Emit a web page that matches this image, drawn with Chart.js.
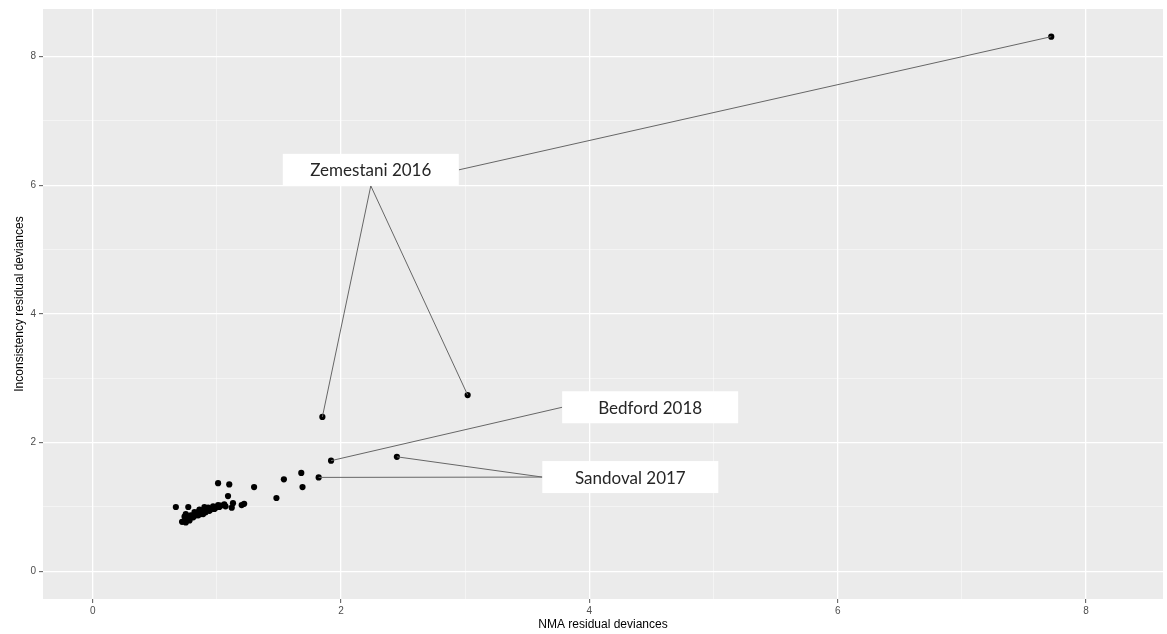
<!DOCTYPE html>
<html>
<head>
<meta charset="utf-8">
<script src="https://cdn.jsdelivr.net/npm/chart.js@4/dist/chart.umd.min.js"></script>
<style>
  body { margin: 0; background: #fff; }
  canvas { display: block; }
</style>
</head>
<body>
<canvas id="dev" width="1167" height="634"></canvas>
<script>
// residual deviances per study: NMA (x) vs inconsistency model (y)
const nmaDev = [7.72, 1.85, 3.02, 1.92, 2.45, 1.82, 1.68, 1.69, 1.54, 1.48, 1.30, 1.01, 1.10, 1.09, 1.13, 1.12, 1.20, 1.22, 0.67, 0.77,
  0.72, 0.74, 0.75, 0.74, 0.78, 0.81, 0.83, 0.85, 0.87, 0.89, 0.91, 0.93, 0.95, 0.97, 0.99, 1.01, 1.03, 1.06,
  0.90, 0.86, 0.82, 0.79, 0.76, 0.94, 0.98, 1.02, 1.07, 0.89, 0.85, 0.75, 0.78];
const incDev = [8.31, 2.40, 2.74, 1.72, 1.78, 1.46, 1.53, 1.31, 1.43, 1.14, 1.31, 1.37, 1.35, 1.17, 1.06, 0.99, 1.03, 1.05, 1.00, 1.00,
  0.77, 0.78, 0.89, 0.85, 0.82, 0.84, 0.87, 0.92, 0.89, 0.95, 0.92, 0.99, 0.96, 1.01, 0.99, 1.03, 1.02, 1.04,
  1.00, 0.96, 0.92, 0.87, 0.83, 0.94, 0.97, 1.00, 1.01, 0.89, 0.87, 0.76, 0.79];

// labelled studies: label anchor (data units) and the points each one refers to
const labelNames = ['Zemestani 2016', 'Bedford 2018', 'Sandoval 2017'];
const labelX = [2.24, 4.49, 4.33];
const labelY = [6.24, 2.55, 1.465];
const labelTargets = [[0, 1, 2], [3], [4, 5]];

const xTicks = [0, 1, 2, 3, 4, 5, 6, 7, 8];
const yTicks = [0, 1, 2, 3, 4, 5, 6, 7, 8];

const BOX_W = 176, BOX_H = 32;

const panelBg = {
  id: 'panelBg',
  beforeDraw(chart) {
    const { ctx, chartArea: a } = chart;
    ctx.save();
    ctx.fillStyle = '#EBEBEB';
    ctx.fillRect(a.left, a.top, a.right - a.left, a.bottom - a.top);
    ctx.restore();
  }
};

const repelLabels = {
  id: 'repelLabels',
  afterDatasetsDraw(chart) {
    const { ctx, scales: { x, y } } = chart;
    ctx.save();
    labelNames.forEach((name, i) => {
      const cx = x.getPixelForValue(labelX[i]);
      const cy = y.getPixelForValue(labelY[i]);
      const left = cx - BOX_W / 2, right = cx + BOX_W / 2;
      const top = cy - BOX_H / 2, bottom = cy + BOX_H / 2;

      ctx.strokeStyle = '#666';
      ctx.lineWidth = 1;
      labelTargets[i].forEach(k => {
        const px = x.getPixelForValue(nmaDev[k]);
        const py = y.getPixelForValue(incDev[k]);
        const dx = px - cx, dy = py - cy;
        let sx, sy;
        if (Math.abs(dx) - BOX_W / 2 > Math.abs(dy) - BOX_H / 2) {
          sx = dx > 0 ? right : left; sy = cy;
        } else {
          sx = cx; sy = dy > 0 ? bottom : top;
        }
        ctx.beginPath();
        ctx.moveTo(sx, sy);
        ctx.lineTo(px, py);
        ctx.stroke();
      });

      ctx.fillStyle = '#fff';
      ctx.fillRect(left, top, BOX_W, BOX_H);
      ctx.fillStyle = '#262626';
      ctx.font = '17px Lato';
      ctx.textAlign = 'center';
      ctx.textBaseline = 'middle';
      ctx.fillText(name, cx, cy + 1);
    });
    ctx.restore();
  }
};

const gridOpts = {
  color: ctx => (ctx.tick && ctx.tick.value % 2 === 0) ? '#ffffff' : 'rgba(255,255,255,0.75)',
  lineWidth: ctx => (ctx.tick && ctx.tick.value % 2 === 0) ? 1.3 : 0.6,
  tickColor: ctx => (ctx.tick && ctx.tick.value % 2 === 0) ? '#555' : 'rgba(0,0,0,0)',
  tickWidth: 1,
  tickLength: 4
};

new Chart(document.getElementById('dev'), {
  type: 'scatter',
  data: {
    datasets: [{
      data: nmaDev.map((v, i) => ({ x: v, y: incDev[i] })),
      backgroundColor: '#000',
      borderColor: '#000',
      borderWidth: 0,
      pointRadius: 3.1
    }]
  },
  options: {
    responsive: false,
    animation: false,
    devicePixelRatio: 1,
    layout: { padding: { top: 7, right: 2, left: 0, bottom: 0 } },
    plugins: { legend: { display: false }, tooltip: { enabled: false } },
    scales: {
      x: {
        type: 'linear',
        min: -0.40,
        max: 8.62,
        afterBuildTicks: s => { s.ticks = xTicks.map(value => ({ value })); },
        afterFit: s => { s.height = 35; },
        border: { display: false },
        grid: gridOpts,
        ticks: {
          autoSkip: false,
          maxRotation: 0,
          padding: 2,
          color: '#4D4D4D',
          font: { family: 'Liberation Sans', size: 10 },
          callback: v => v % 2 === 0 ? String(v) : ''
        },
        title: {
          display: true,
          text: 'NMA residual deviances',
          color: '#000',
          font: { family: 'Liberation Sans', size: 12 },
          padding: { top: 0, bottom: 2 }
        }
      },
      y: {
        type: 'linear',
        min: -0.43,
        max: 8.74,
        afterBuildTicks: s => { s.ticks = yTicks.map(value => ({ value })); },
        afterFit: s => { s.width = 43; },
        border: { display: false },
        grid: gridOpts,
        ticks: {
          autoSkip: false,
          padding: 3,
          color: '#4D4D4D',
          font: { family: 'Liberation Sans', size: 10 },
          callback: v => v % 2 === 0 ? String(v) : ''
        },
        title: {
          display: true,
          text: 'Inconsistency residual deviances',
          color: '#000',
          font: { family: 'Liberation Sans', size: 12 },
          padding: { top: 12, bottom: 0 }
        }
      }
    }
  },
  plugins: [panelBg, repelLabels]
});
</script>
</body>
</html>
